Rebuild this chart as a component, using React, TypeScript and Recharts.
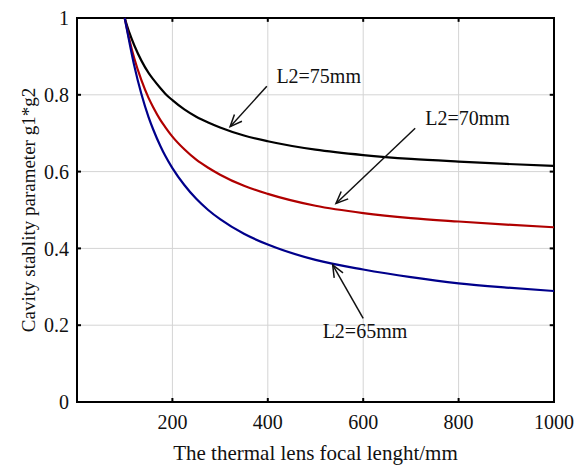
import React from "react";
import { LineChart, Line, XAxis, YAxis, CartesianGrid, ReferenceLine, ReferenceDot, ReferenceArea } from "recharts";

// focal length of the thermal lens (mm)
const focal = [100, 110, 120, 135, 150, 160, 175, 185, 200, 225, 250, 275, 300, 350, 400, 500, 600, 700, 800, 900, 1000];
// g1*g2 for each L2
const l2_75 = [1.0, 0.961, 0.929, 0.889, 0.857, 0.84, 0.817, 0.803, 0.786, 0.762, 0.743, 0.728, 0.715, 0.694, 0.679, 0.657, 0.643, 0.633, 0.626, 0.62, 0.615];
const l2_70 = [1.0, 0.943, 0.895, 0.838, 0.792, 0.767, 0.734, 0.716, 0.691, 0.658, 0.631, 0.61, 0.592, 0.563, 0.542, 0.511, 0.492, 0.479, 0.47, 0.462, 0.455];
const l2_65 = [1.0, 0.936, 0.876, 0.802, 0.742, 0.709, 0.666, 0.641, 0.609, 0.565, 0.529, 0.5, 0.476, 0.438, 0.41, 0.37, 0.345, 0.325, 0.309, 0.298, 0.289];

const xTicks = [200, 400, 600, 800, 1000];
const yTicks = [0, 0.2, 0.4, 0.6, 0.8, 1];

// annotation text + arrows (data coords)
const notes = [
  { text: "L2=75mm", x: 418, y: 0.848, from: [398, 0.822], to: [321, 0.717] },
  { text: "L2=70mm", x: 730, y: 0.74, from: [709, 0.713], to: [543, 0.517] },
  { text: "L2=65mm", x: 515, y: 0.184, from: [600, 0.2175], to: [536, 0.357] },
];

const data = focal.map((f, i) => ({ f, a: l2_75[i], b: l2_70[i], c: l2_65[i] }));

const FONT = "'Liberation Serif', 'Times New Roman', serif";

const Arrow = (props: any) => {
  const { x1, y1, x2, y2 } = props;
  const ang = Math.atan2(y2 - y1, x2 - x1);
  const len = 13;
  const spread = 0.4;
  const ax = x2 - len * Math.cos(ang - spread);
  const ay = y2 - len * Math.sin(ang - spread);
  const bx = x2 - len * Math.cos(ang + spread);
  const by = y2 - len * Math.sin(ang + spread);
  return (
    <g stroke="#111" strokeWidth={1.5} fill="none">
      <line x1={x1} y1={y1} x2={x2} y2={y2} />
      <polyline points={`${ax},${ay} ${x2},${y2} ${bx},${by}`} />
    </g>
  );
};

// small inward tick on the top / right edge
const MirrorTick = (props: any) => {
  const { x1, y1, x2, y2 } = props;
  return <line x1={x1} y1={y1} x2={x2} y2={y2} stroke="#000" strokeWidth={2} />;
};

const NoteText = (text: string) => (props: any) => (
  <text x={props.cx} y={props.cy} dominantBaseline="central" fontFamily={FONT} fontSize={20} fill="#111">
    {text}
  </text>
);

const fmtY = (v: number) => (v === 0 || v === 1 ? String(v) : v.toFixed(1));

export default function App() {
  return (
    <div style={{ position: "absolute", left: 0, top: 0, background: "#fff" }}>
      <LineChart width={578} height={467} data={data} margin={{ top: 18, right: 24, bottom: 0, left: 0 }}>
        <CartesianGrid stroke="#d4d4d4" strokeWidth={1} />
        <XAxis
          dataKey="f"
          type="number"
          domain={[0, 1000]}
          ticks={xTicks}
          height={65}
          tickSize={-4}
          tickMargin={17}
          stroke="#000"
          strokeWidth={2}
          tick={{ fill: "#111", fontFamily: FONT, fontSize: 20 }}
          label={(p: any) => {
            const vb = p.viewBox;
            return (
              <text x={vb.x + vb.width / 2} y={453} textAnchor="middle" dominantBaseline="central" fontFamily={FONT} fontSize={21} fill="#111">
                The thermal lens focal lenght/mm
              </text>
            );
          }}
        />
        <YAxis
          type="number"
          domain={[0, 1]}
          ticks={yTicks}
          width={77}
          tickSize={-4}
          tickMargin={12}
          stroke="#000"
          strokeWidth={2}
          tickFormatter={fmtY}
          tick={{ fill: "#111", fontFamily: FONT, fontSize: 20 }}
          label={(p: any) => {
            const vb = p.viewBox;
            const cy = vb.y + vb.height / 2;
            return (
              <text x={28} y={cy} transform={`rotate(-90 28 ${cy})`} textAnchor="middle" dominantBaseline="central" fontFamily={FONT} fontSize={19} fill="#111">
                Cavity stablity parameter g1*g2
              </text>
            );
          }}
        />
        <ReferenceArea x1={0} x2={1000} y1={0} y2={1} fill="none" stroke="#000" strokeWidth={2} ifOverflow="visible" />
        {xTicks.map((t) => (
          <ReferenceLine key={"tt" + t} segment={[{ x: t, y: 1 }, { x: t, y: 0.99 }]} shape={MirrorTick} />
        ))}
        {yTicks.map((t) => (
          <ReferenceLine key={"rt" + t} segment={[{ x: 1000, y: t }, { x: 991, y: t }]} shape={MirrorTick} />
        ))}
        <Line type="monotone" dataKey="a" stroke="#000000" strokeWidth={2.2} dot={false} isAnimationActive={false} />
        <Line type="monotone" dataKey="b" stroke="#b00000" strokeWidth={2.2} dot={false} isAnimationActive={false} />
        <Line type="monotone" dataKey="c" stroke="#00008b" strokeWidth={2.2} dot={false} isAnimationActive={false} />
        {notes.map((n) => (
          <ReferenceLine
            key={n.text + "-arrow"}
            segment={[
              { x: n.from[0], y: n.from[1] },
              { x: n.to[0], y: n.to[1] },
            ]}
            shape={Arrow}
          />
        ))}
        {notes.map((n) => (
          <ReferenceDot key={n.text} x={n.x} y={n.y} r={0} shape={NoteText(n.text)} />
        ))}
      </LineChart>
    </div>
  );
}
